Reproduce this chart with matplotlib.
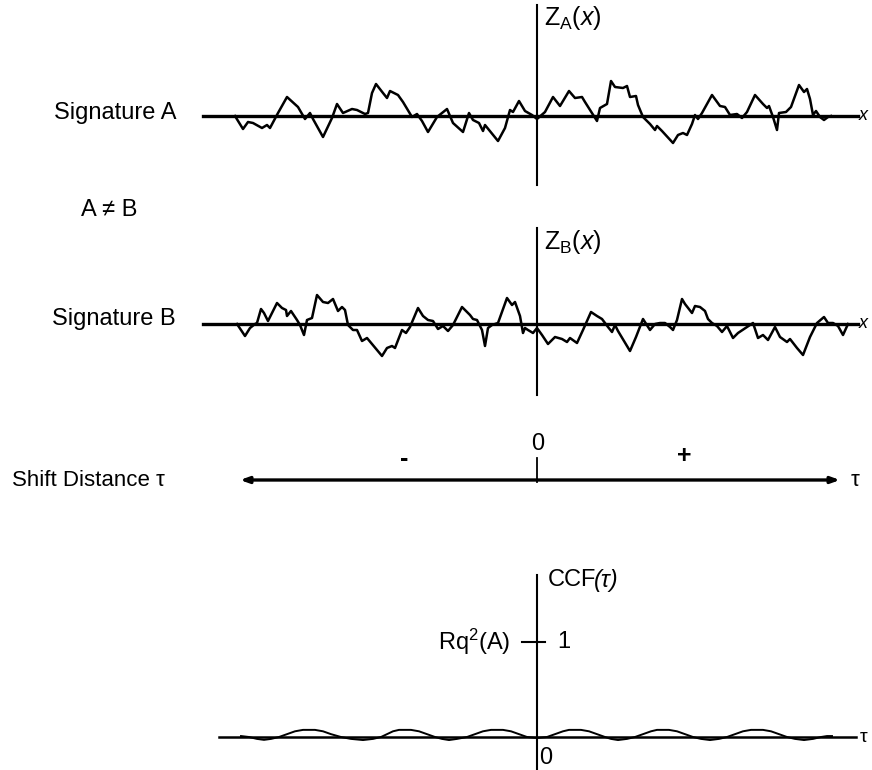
import matplotlib
matplotlib.use("Agg")
import matplotlib.pyplot as plt

plt.rcParams['font.family'] = ['Liberation Sans', 'DejaVu Sans']
plt.rcParams['mathtext.fontset'] = 'custom'
plt.rcParams['mathtext.rm'] = 'Liberation Sans'
plt.rcParams['mathtext.it'] = 'Liberation Sans:italic'

# profile A: lateral position (relative to origin) and height
prof_a_x = [-302, -294, -289, -284, -275, -270, -267, -259, -250, -239, -232, -227, -224,
            -214, -205, -200, -194, -185, -180, -172, -169, -165, -161, -154, -150, -147,
            -143, -139, -134, -125, -120, -115, -109, -100, -90, -84, -74, -68, -64, -58,
            -54, -52, -39, -32, -27, -24, -18, -12, -5, 0, 8, 16, 23, 32, 38, 45, 48, 60,
            63, 70, 74, 78, 86, 90, 93, 99, 101, 106, 113, 118, 120, 125, 136, 141, 146,
            150, 155, 158, 161, 165, 175, 183, 188, 193, 200, 205, 210, 218, 226, 230, 232,
            236, 240, 242, 249, 254, 262, 267, 270, 273, 276, 279, 283, 287, 291, 294]
prof_a_z = [0, -13, -6, -7, -12, -9, -12, 3, 19, 9, -3, 3, -3,
            -21, -2, 12, 3, 7, 6, 2, 3, 23, 32, 23, 18, 25,
            23, 21, 14, -1, 2, -5, -16, -1, 7, -7, -16, 3, -4, -7,
            -15, -9, -25, -12, 6, 4, 15, 5, 1, -3, 4, 19, 10, 25, 18, 19, 14, -5,
            8, 12, 35, 29, 28, 30, 19, 20, 11, -1, -8, -14, -10, -15, -27, -19, -17,
            -19, -8, 1, -3, 3, 21, 10, 9, 1, 2, -2, 4, 21, 12, 8, 10,
            -1, -14, 3, 4, 9, 31, 24, 27, 17, 1, 5, -1, -4, -1, 0]

# profile B
prof_b_x = [-300, -292, -287, -282, -280, -276, -273, -269, -260, -255, -251, -250, -246,
            -240, -237, -233, -230, -225, -220, -214, -209, -204, -199, -195, -192, -189,
            -184, -180, -175, -170, -155, -150, -145, -142, -135, -131, -127, -119, -114,
            -109, -104, -99, -94, -89, -84, -75, -67, -64, -60, -55, -52, -49, -45, -39,
            -30, -25, -22, -17, -14, -12, -9, -4, 0, 5, 11, 18, 25, 30, 33, 40, 46, 54,
            60, 65, 71, 75, 78, 81, 93, 99, 106, 113, 118, 123, 128, 133, 136, 140, 145,
            148, 155, 158, 163, 168, 171, 175, 180, 185, 190, 196, 201, 210, 216, 221,
            226, 231, 238, 243, 250, 253, 260, 266, 273, 280, 287, 291, 296, 301, 306, 311]
prof_b_z = [0, -12, -4, 0, 1, 15, 11, 3, 21, 16, 14, 8, 13,
            4, -1, -11, 4, 6, 29, 22, 21, 25, 13, 17, 14, -1,
            -6, -6, -17, -14, -32, -24, -22, -24, -6, -9, -3, 16, 8,
            4, 3, -5, -2, -7, -1, 17, 9, 5, 4, -6, -22, -4, -1, 1,
            26, 19, 22, 8, -9, -4, -6, -9, -4, -11, -20, -13, -15, -18, -14, -19, -6, 12,
            8, 5, -3, -8, -1, -7, -27, -13, 5, -6, 0, 1, 1, -3, -6, 4, 25,
            20, 11, 18, 17, 13, 5, 1, -2, -8, -2, -14, -9, -3, 1, -14,
            -11, -16, -3, -13, -18, -15, -24, -31, -13, 1, 7, 1, 1, -2, -11, 0]

# cross-correlation function vs shift distance
ccf_tau = [-296, -288, -280, -273, -266, -258, -250, -242, -234, -222, -214, -206, -196,
           -186, -174, -164, -156, -150, -144, -138, -126, -118, -110, -102, -95, -88,
           -80, -70, -62, -54, -46, -34, -26, -18, -10, 0, 10, 18, 26, 32, 44, 52, 60,
           68, 74, 81, 90, 98, 106, 114, 120, 132, 140, 148, 156, 164, 173, 182, 190,
           198, 206, 214, 226, 234, 242, 250, 258, 267, 276, 284, 290, 295]
ccf_val = [0.01, 0.0, -0.02, -0.03, -0.02, 0.0, 0.03, 0.06, 0.075, 0.075, 0.06, 0.03, 0.0,
           -0.02, -0.032, -0.02, 0.0, 0.03, 0.06, 0.075, 0.075, 0.06, 0.03, 0.0, -0.02, -0.032,
           -0.02, 0.0, 0.03, 0.06, 0.075, 0.075, 0.06, 0.03, 0.0, -0.01, 0.0, 0.03, 0.06,
           0.075, 0.075, 0.06, 0.03,
           0.0, -0.02, -0.032, -0.02, 0.0, 0.03, 0.06, 0.075, 0.075, 0.06, 0.03, 0.0,
           -0.02, -0.032, -0.02, 0.0,
           0.03, 0.06, 0.075, 0.075, 0.06, 0.03, 0.0, -0.02, -0.032, -0.02, 0.0, 0.01, 0.01]

W, H = 872, 770
X0 = 537  # origin column in pixels
fig = plt.figure(figsize=(W / 100, H / 100), dpi=100)


def panel(top, bottom, ylim):
    ax = fig.add_axes([0, 1 - bottom / H, 1, (bottom - top) / H])
    ax.set_xlim(-X0, W - X0)
    ax.set_ylim(*ylim)
    ax.axis('off')
    return ax


txt = dict(color='black', fontsize=17)

# ---- signature A
ax1 = panel(0, 200, (-84, 116))
ax1.plot([-334, 321], [0, 0], color='black', lw=2.4)
ax1.plot([0, 0], [-69, 111], color='black', lw=1.5)
ax1.plot(prof_a_x, prof_a_z, color='black', lw=1.8)
ax1.text(-361, 3, 'Signature A', ha='right', va='center', **txt)
ax1.text(7, 98, r'$\mathrm{Z}_{\mathrm{A}}(x)$', ha='left', va='center', fontsize=18)
ax1.text(322, 0, 'x', ha='left', va='center', fontsize=13, style='italic')
ax1.text(-428, -94, 'A ≠ B', ha='center', va='center', **txt)

# ---- signature B
ax2 = panel(200, 420, (-96, 124))
ax2.plot([-334, 321], [0, 0], color='black', lw=2.4)
ax2.plot([0, 0], [-71, 96], color='black', lw=1.5)
ax2.plot(prof_b_x, prof_b_z, color='black', lw=1.8)
ax2.text(-361, 5, 'Signature B', ha='right', va='center', **txt)
ax2.text(7, 82, r'$\mathrm{Z}_{\mathrm{B}}(x)$', ha='left', va='center', fontsize=18)
ax2.text(322, 0, 'x', ha='left', va='center', fontsize=13, style='italic')

# ---- shift distance axis
ax3 = panel(420, 540, (-60, 60))
ax3.annotate('', xy=(-297, 0), xytext=(303, 0),
             arrowprops=dict(arrowstyle='<|-|>,head_length=0.5,head_width=0.18',
                             color='black', lw=2.4, shrinkA=0, shrinkB=0))
ax3.plot([0, 0], [-2, 22], color='black', lw=1.3)
ax3.text(-449, 0, 'Shift Distance τ', ha='center', va='center', fontsize=16)
ax3.text(1, 36, '0', ha='center', va='center', **txt)
ax3.text(-133, 21, '-', ha='center', va='center', fontsize=18, fontweight='bold')
ax3.text(147, 24, '+', ha='center', va='center', fontsize=18, fontweight='bold')
ax3.text(318, 0, 'τ', ha='center', va='center', fontsize=16)

# ---- cross-correlation function
ax4 = panel(540, 770, (-33 / 95, 197 / 95))
ax4.plot([-318, 319], [0, 0], color='black', lw=1.8)
ax4.plot([0, 0], [-0.35, 1.705], color='black', lw=1.5)
ax4.plot([-15, 8], [1, 1], color='black', lw=1.5)
ax4.plot(ccf_tau, ccf_val, color='black', lw=1.4)
ax4.text(11, 1.65, 'CCF', ha='left', va='center', **txt)
ax4.text(57, 1.65, '(τ)', ha='left', va='center', fontsize=17, style='italic')
ax4.text(-27, 1.0, r'Rq$^2$(A)', ha='right', va='center', **txt)
ax4.text(20, 1.0, '1', ha='left', va='center', **txt)
ax4.text(9, -0.22, '0', ha='center', va='center', **txt)
ax4.text(323, 0, 'τ', ha='left', va='center', fontsize=14)

fig.savefig('out.png', dpi=100, facecolor='white')
